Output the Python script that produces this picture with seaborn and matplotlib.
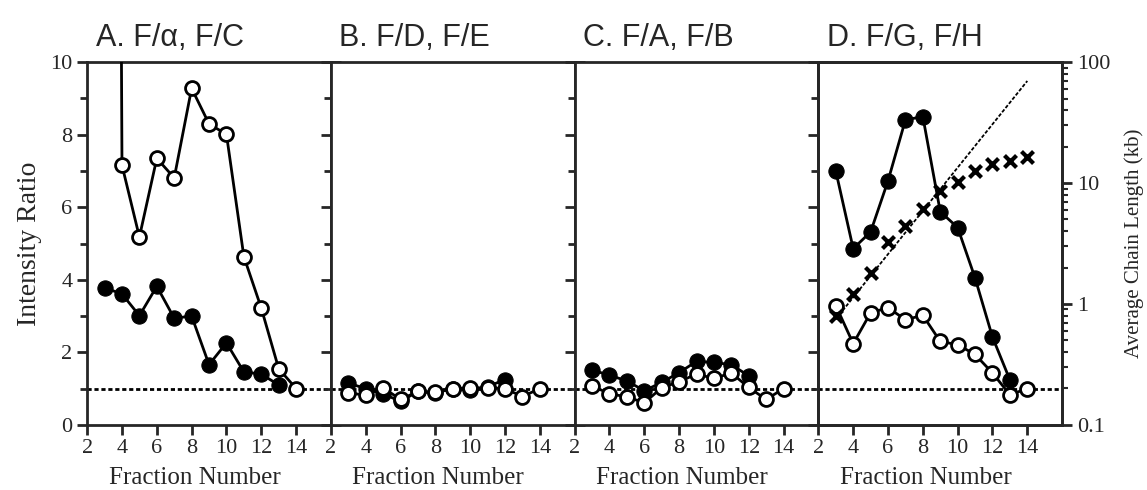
import numpy as np
import seaborn as sns
import matplotlib.pyplot as plt

# fraction numbers on the x axis
frac_open = np.arange(3, 15)      # 3..14
frac_a_filled = np.arange(3, 14)  # 3..13
frac_filled = np.arange(3, 13)    # 3..12
frac_d_filled = np.arange(3, 14)

# A. F/alpha (open), F/C (filled)
a_open = [100, 7.16, 5.18, 7.35, 6.81, 9.28, 8.30, 8.01, 4.64, 3.22, 1.55, 1.0]
a_filled = [3.78, 3.61, 3.01, 3.82, 2.94, 3.00, 1.66, 2.26, 1.46, 1.40, 1.10]

# B. F/D, F/E
b_open = [0.88, 0.82, 1.02, 0.70, 0.92, 0.90, 1.00, 1.02, 1.02, 1.00, 0.78, 1.0]
b_filled = [1.15, 1.00, 0.85, 0.65, 0.92, 0.88, 1.00, 0.95, 1.05, 1.25]

# C. F/A, F/B
c_open = [1.07, 0.86, 0.77, 0.61, 1.02, 1.19, 1.40, 1.28, 1.43, 1.03, 0.70, 1.0]
c_filled = [1.51, 1.37, 1.21, 0.94, 1.17, 1.44, 1.75, 1.72, 1.66, 1.35]

# D. F/G, F/H
d_open = [3.29, 2.24, 3.09, 3.23, 2.90, 3.02, 2.30, 2.21, 1.94, 1.43, 0.83, 1.0]
d_filled = [7.00, 4.86, 5.32, 6.73, 8.41, 8.50, 5.88, 5.44, 4.05, 2.42, 1.24]

# average chain length (kb), right log axis of panel D
chain_x = np.arange(3, 15)
chain_kb = [0.79, 1.20, 1.79, 3.25, 4.41, 6.15, 8.6, 10.2, 12.6, 14.3, 15.1, 16.3]
fit_x = [3, 14]
fit_kb = [0.75, 70]

titles = ['A. F/\u03b1, F/C', 'B. F/D, F/E', 'C. F/A, F/B', 'D. F/G, F/H']
panels = [(frac_a_filled, a_filled, a_open),
          (frac_filled, b_filled, b_open),
          (frac_filled, c_filled, c_open),
          (frac_d_filled, d_filled, d_open)]

sns.set_style('ticks')
plt.rcParams['font.family'] = ['Liberation Serif', 'DejaVu Serif']
plt.rcParams['axes.linewidth'] = 2
plt.rcParams['xtick.major.width'] = 2
plt.rcParams['ytick.major.width'] = 2
plt.rcParams['ytick.minor.width'] = 2

fig, axes = plt.subplots(1, 4, figsize=(11.47, 4.9), dpi=100, sharey=True)
fig.subplots_adjust(left=0.076, right=0.926, top=0.873, bottom=0.133, wspace=0)

for i, (ax, (fx, filled, opened)) in enumerate(zip(axes, panels)):
    ax.axhline(1, color='black', lw=2, ls=(0, (1.5, 1)), zorder=1)
    sns.lineplot(x=fx, y=filled, ax=ax, color='black', lw=2, marker='o',
                 markersize=11, markerfacecolor='black', markeredgecolor='black', zorder=2)
    sns.lineplot(x=frac_open, y=opened, ax=ax, color='black', lw=2, marker='o',
                 markersize=10, markerfacecolor='white', markeredgecolor='black',
                 markeredgewidth=2, zorder=3)
    ax.set_xlim(2, 16)
    ax.set_ylim(0, 10)
    ax.set_xticks(range(2, 15, 2))
    ax.set_yticks(range(0, 11, 2))
    ax.set_yticks(range(1, 10, 2), minor=True)
    ax.tick_params(axis='x', direction='out', length=7, labelsize=16, pad=3)
    ax.tick_params(axis='y', which='both', direction='out', left=True, right=(i < 3),
                   labelsize=16)
    ax.tick_params(axis='y', which='major', length=7)
    ax.tick_params(axis='y', which='minor', length=5)
    ax.set_xlabel('Fraction Number', fontsize=18)
    ax.xaxis.set_label_coords(0.44, -0.115)
    ax.text(0.035, 1.025, titles[i], transform=ax.transAxes, fontsize=22,
            family=['Liberation Sans', 'DejaVu Sans'], va='bottom', ha='left')
    for s in ax.spines.values():
        s.set_visible(True)
        s.set_linewidth(2)

axes[0].set_ylabel('Intensity Ratio', fontsize=20, labelpad=6)
for ax in axes[1:]:
    ax.set_ylabel('')

# right axis: average chain length
axr = axes[3].twinx()
axr.set_yscale('log')
axr.set_ylim(0.1, 100)
sns.lineplot(x=fit_x, y=fit_kb, ax=axr, color='black', lw=1.3, ls=(0, (2, 1)))
sns.scatterplot(x=chain_x, y=chain_kb, ax=axr, marker='x', s=75, linewidth=3,
                color='black', zorder=4)
axr.set_yticks([0.1, 1, 10, 100])
axr.set_yticklabels(['0.1', '1', '10', '100'])
axr.tick_params(axis='y', which='major', direction='out', length=7, width=2, labelsize=16)
axr.tick_params(axis='y', which='minor', direction='out', length=4, width=1.5)
axr.set_ylabel('Average Chain Length (kb)', fontsize=15, labelpad=10)

fig.savefig('out.png', dpi=100)
